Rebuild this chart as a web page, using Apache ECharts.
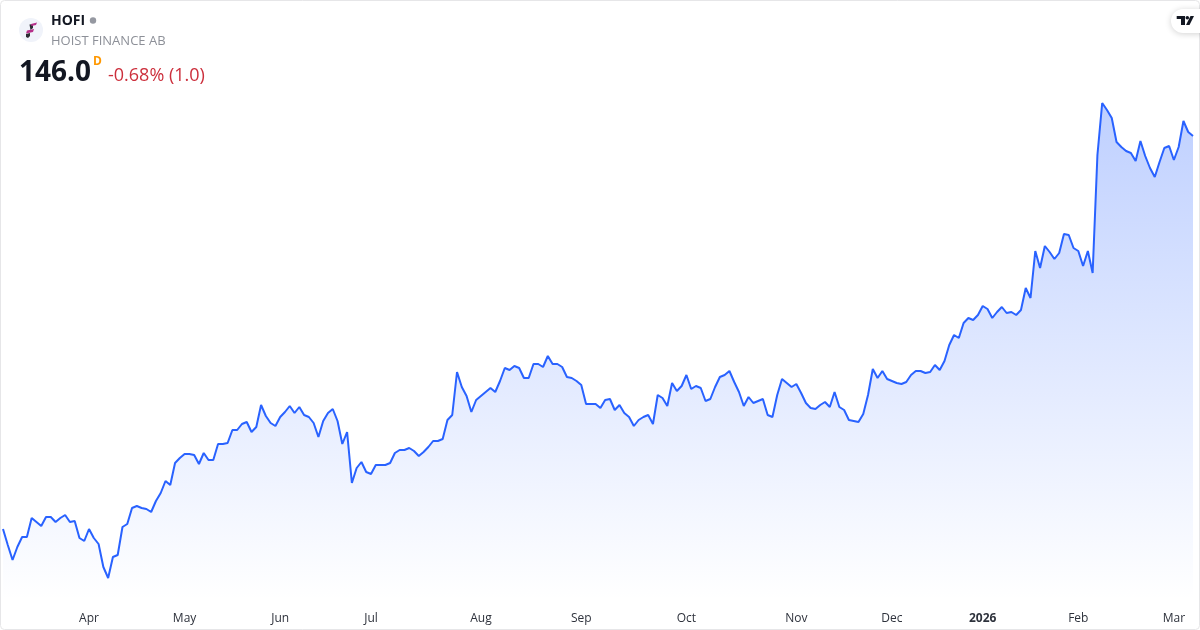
<!DOCTYPE html>
<html>
<head>
<meta charset="utf-8">
<title>HOFI</title>
<script src="https://cdn.jsdelivr.net/npm/echarts@6/dist/echarts.min.js"></script>
<style>
html, body { margin: 0; padding: 0; background: #fff; }
#chart { width: 1200px; height: 630px; }
</style>
</head>
<body>
<div id="chart"></div>
<script>
var prices = [
    67.4, 64.2, 61.2, 63.8, 65.8, 65.8, 69.6, 68.8, 68.0, 69.8,
    69.8, 68.8, 69.6, 70.2, 68.8, 69.0, 65.6, 65.0, 67.4, 65.6,
    64.4, 59.8, 57.6, 61.8, 62.2, 67.8, 68.4, 71.6, 72.0, 71.6,
    71.4, 70.8, 73.0, 74.6, 77.0, 76.2, 80.6, 81.6, 82.4, 82.4,
    82.2, 80.4, 82.6, 81.2, 81.2, 84.4, 84.4, 84.6, 87.2, 87.2,
    88.4, 88.8, 86.8, 87.8, 92.2, 90.0, 88.6, 88.0, 89.8, 90.8,
    92.0, 90.6, 91.8, 90.2, 89.8, 88.6, 85.8, 89.0, 90.6, 91.4,
    89.0, 84.4, 86.8, 76.6, 79.6, 80.8, 78.8, 78.4, 80.2, 80.2,
    80.2, 80.6, 82.6, 83.2, 83.2, 83.6, 83.0, 82.0, 82.8, 83.8,
    85.0, 85.0, 85.4, 89.2, 90.2, 98.8, 95.8, 94.0, 90.8, 93.2,
    94.0, 94.8, 95.6, 94.8, 97.0, 99.6, 99.2, 100.0, 99.6, 97.6,
    97.6, 100.4, 100.4, 99.8, 102.0, 100.4, 100.4, 99.8, 97.8, 97.6,
    97.0, 96.2, 92.4, 92.4, 92.4, 91.6, 93.2, 93.4, 91.2, 92.2,
    90.6, 89.8, 88.0, 89.2, 89.8, 90.2, 88.4, 94.2, 93.6, 92.0,
    96.6, 95.0, 96.0, 98.2, 95.4, 96.0, 95.6, 93.0, 93.4, 95.8,
    97.8, 98.2, 99.0, 96.8, 94.8, 92.0, 93.8, 92.6, 93.0, 93.4,
    90.2, 89.8, 94.2, 97.4, 96.6, 95.8, 96.4, 94.6, 92.6, 91.6,
    91.4, 92.2, 92.8, 91.8, 94.8, 91.8, 91.2, 89.2, 89.0, 88.8,
    90.4, 94.2, 99.4, 97.6, 99.0, 97.4, 97.0, 96.6, 96.4, 96.8,
    98.2, 99.0, 99.0, 98.6, 98.8, 100.2, 99.2, 101.0, 104.2, 106.2,
    105.6, 108.6, 109.6, 109.2, 110.2, 112.0, 111.4, 109.6, 110.8, 111.8,
    110.6, 110.8, 110.2, 111.2, 115.6, 113.6, 123.0, 119.6, 124.0, 122.8,
    121.4, 122.6, 126.4, 126.2, 123.6, 123.0, 120.0, 123.0, 118.6, 142.2,
    152.6, 151.2, 149.6, 144.8, 143.8, 143.0, 142.6, 141.0, 145.0, 142.0,
    139.6, 137.8, 140.8, 143.6, 144.0, 141.2, 143.8, 149.0, 146.8, 146.0
];
var tickLabels = ['Apr', 'May', 'Jun', 'Jul', 'Aug', 'Sep', 'Oct', 'Nov', 'Dec', '2026', 'Feb', 'Mar'];
var tickIndex = [18, 38, 58, 77, 100, 121, 143, 166, 186, 205, 225, 245];

var categories = [];
for (var i = 0; i < prices.length; i++) {
    var pos = tickIndex.indexOf(i);
    categories.push(pos >= 0 ? tickLabels[pos] : '');
}

var font = '"Open Sans", "Noto Sans", sans-serif';
var myChart = echarts.init(document.getElementById('chart'));

var option = {
    animation: false,
    backgroundColor: '#fff',
    grid: { left: 3, right: 7, top: 100, bottom: 30 },
    xAxis: {
        type: 'category',
        boundaryGap: false,
        data: categories,
        axisLine: { show: false },
        axisTick: { show: false },
        splitLine: { show: false },
        axisLabel: {
            interval: function (idx) { return tickIndex.indexOf(idx) >= 0; },
            margin: 13,
            color: '#2e323c',
            fontFamily: font,
            fontSize: 12,
            formatter: function (val) {
                return val === '2026' ? '{year|2026}' : val;
            },
            rich: {
                year: { fontFamily: font, fontSize: 12, fontWeight: 'bold', color: '#2e323c' }
            }
        }
    },
    yAxis: {
        type: 'value',
        show: false,
        min: 53.2,
        max: 153.2,
        splitLine: { show: false }
    },
    series: [
        {
            type: 'line',
            data: prices,
            showSymbol: false,
            symbol: 'none',
            smooth: false,
            lineStyle: { color: '#2962ff', width: 2 },
            areaStyle: {
                origin: 'start',
                opacity: 1,
                color: {
                    type: 'linear',
                    global: true,
                    x: 0, y: 100, x2: 0, y2: 600,
                    colorStops: [
                        { offset: 0, color: 'rgba(41,98,255,0.30)' },
                        { offset: 1, color: 'rgba(41,98,255,0)' }
                    ]
                }
            }
        }
    ],
    graphic: [
        // card border
        { type: 'rect', silent: true, z: 10, shape: { x: 0.5, y: 0.5, width: 1199, height: 629, r: 4 },
          style: { fill: 'none', stroke: '#e6e6e8', lineWidth: 1 } },
        // logo
        { type: 'circle', z: 11, shape: { cx: 31, cy: 30, r: 12 }, style: { fill: '#f0f3fa' } },
        { type: 'polygon', z: 11, shape: { points: [[29.5, 24.5], [33, 24], [33, 28], [30.5, 30]] }, style: { fill: '#2b2b33' } },
        { type: 'polygon', z: 11, shape: { points: [[26, 34], [30, 33], [30, 36], [28, 38], [26, 37]] }, style: { fill: '#2b2b33' } },
        { type: 'polygon', z: 11, shape: { points: [[31, 24], [37, 22.5], [36, 25], [31.5, 26]] }, style: { fill: '#b5308a' } },
        { type: 'polygon', z: 11, shape: { points: [[27, 30.5], [34, 29], [33, 32], [26, 33.5]] }, style: { fill: '#b5308a' } },
        // header text
        { type: 'text', z: 11, x: 51, y: 21, style: { text: 'HOFI', fontFamily: font, fontSize: 14, fontWeight: 'bold', fill: '#131722', textVerticalAlign: 'middle' } },
        { type: 'circle', z: 11, shape: { cx: 93, cy: 20.5, r: 3.2 }, style: { fill: '#9598a1' } },
        { type: 'text', z: 11, x: 51, y: 41, style: { text: 'HOIST FINANCE AB', fontFamily: font, fontSize: 13, fill: '#8d9098', textVerticalAlign: 'middle' } },
        { type: 'text', z: 11, x: 19, y: 73, style: { text: '146.0', fontFamily: font, fontSize: 28, fontWeight: 'bold', fill: '#131722', textVerticalAlign: 'middle' } },
        { type: 'text', z: 11, x: 93, y: 62, style: { text: 'D', fontFamily: font, fontSize: 12, fontWeight: 'bold', fill: '#ff9800', textVerticalAlign: 'middle' } },
        { type: 'text', z: 11, x: 108, y: 76, style: { text: '-0.68% (1.0)', fontFamily: font, fontSize: 18, fill: '#cc2f3c', textVerticalAlign: 'middle' } },
        // TradingView badge
        { type: 'rect', z: 11, shape: { x: 1171, y: 9, width: 40, height: 24, r: 12 },
          style: { fill: '#fff', shadowBlur: 6, shadowColor: 'rgba(0,0,0,0.18)', shadowOffsetY: 1 } },
        { type: 'polygon', z: 12, shape: { points: [[1176.7, 16], [1185, 16], [1185, 25], [1181, 25], [1181, 19], [1176.7, 19]] }, style: { fill: '#131722' } },
        { type: 'circle', z: 12, shape: { cx: 1187.3, cy: 17.8, r: 1.8 }, style: { fill: '#131722' } },
        { type: 'polygon', z: 12, shape: { points: [[1190.5, 16], [1194, 16], [1189.5, 25], [1186, 25]] }, style: { fill: '#131722' } }
    ]
};
myChart.setOption(option);
</script>
</body>
</html>
